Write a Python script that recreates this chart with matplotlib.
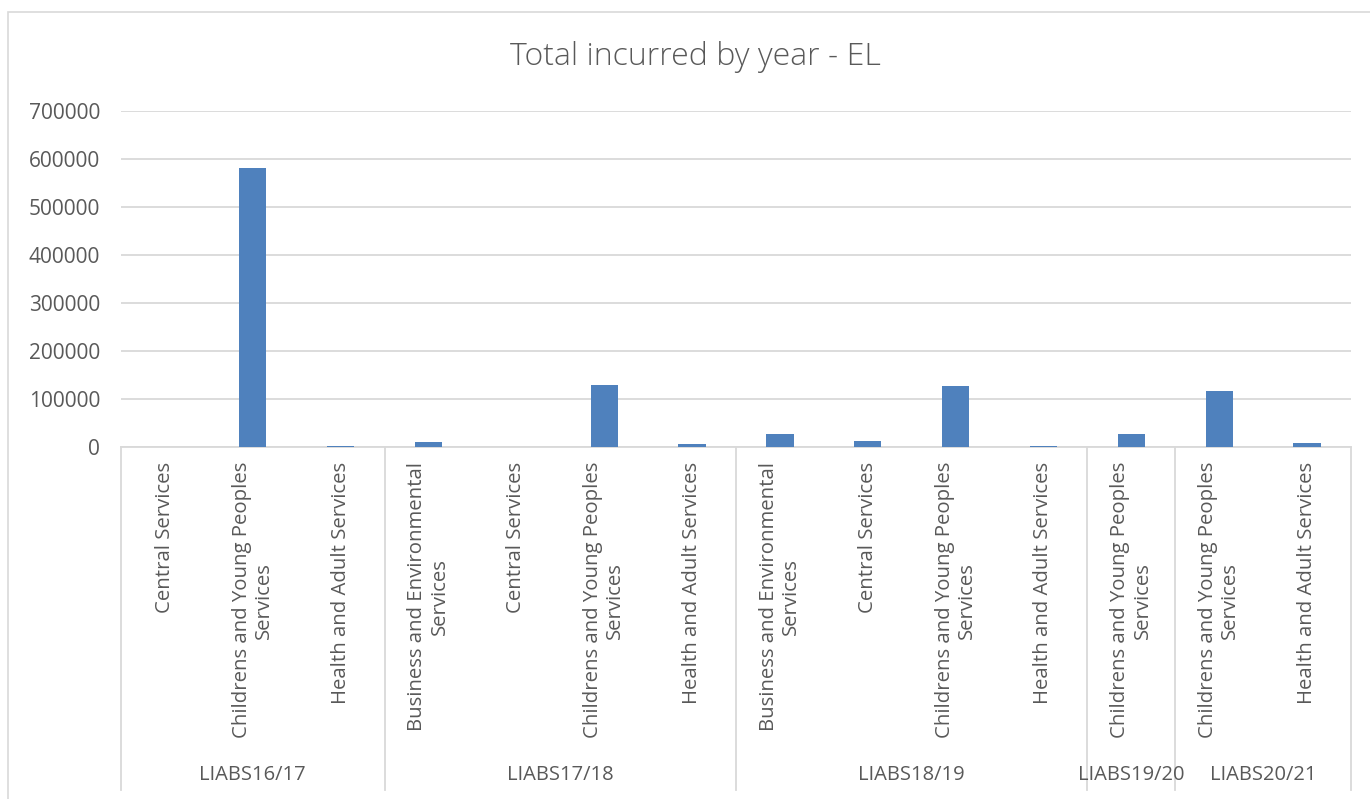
import matplotlib.pyplot as plt
from matplotlib.patches import Rectangle
import matplotlib.transforms as mtransforms

plt.rcParams['font.family'] = ['Open Sans', 'DejaVu Sans']

# data
years = ['LIABS16/17', 'LIABS17/18', 'LIABS18/19', 'LIABS19/20', 'LIABS20/21']
categories = [
    ['Central Services', 'Childrens and Young Peoples\nServices', 'Health and Adult Services'],
    ['Business and Environmental\nServices', 'Central Services',
     'Childrens and Young Peoples\nServices', 'Health and Adult Services'],
    ['Business and Environmental\nServices', 'Central Services',
     'Childrens and Young Peoples\nServices', 'Health and Adult Services'],
    ['Childrens and Young Peoples\nServices'],
    ['Childrens and Young Peoples\nServices', 'Health and Adult Services'],
]
values = [
    [0, 580500, 1500],
    [11000, 0, 129000, 6000],
    [26500, 13000, 128000, 1500],
    [26500],
    [116500, 9000],
]
yticks = [0, 100000, 200000, 300000, 400000, 500000, 600000, 700000]

W, H = 1370, 799
txt = '#595959'
grid = '#d9d9d9'
blue = '#4f81bd'

fig = plt.figure(figsize=(W / 100, H / 100), dpi=100)
# chart frame (cut off at right and bottom like the screenshot)
fig.patches.append(Rectangle((8 / W, -0.1), 1.2, 1 - 12 / H + 0.1, transform=fig.transFigure,
                             fill=False, edgecolor=grid, linewidth=1.2))

left, right, top, bottom = 121, 1351, 111, 447
ax = fig.add_axes([left / W, 1 - bottom / H, (right - left) / W, (bottom - top) / H])

flat_labels = [c for grp in categories for c in grp]
flat_values = [v for grp in values for v in grp]
xs = list(range(len(flat_values)))

ax.bar(xs, flat_values, width=0.31, color=blue, zorder=3)
ax.set_xlim(-0.5, len(xs) - 0.5)
ax.set_ylim(0, 700000)
ax.set_yticks(yticks)
ax.set_yticklabels([str(t) for t in yticks])
ax.set_xticks([])
ax.tick_params(axis='y', length=0, pad=15, labelsize=15, labelcolor=txt)
ax.grid(axis='y', color=grid, linewidth=1.3, zorder=0)
for s in ['top', 'left', 'right']:
    ax.spines[s].set_visible(False)
ax.spines['bottom'].set_color(grid)
ax.spines['bottom'].set_linewidth(1.3)

px = bottom - top
trans = mtransforms.blended_transform_factory(ax.transData, ax.transAxes)

for x, lab in zip(xs, flat_labels):
    ax.text(x, -(462 - bottom) / px, lab, transform=trans, rotation=90,
            ha='center', va='top', multialignment='center', fontsize=14.7,
            color=txt, linespacing=1.15)

# group labels and separators
start = 0
bounds = [-0.5]
for yr, grp in zip(years, categories):
    n = len(grp)
    ax.text(start + (n - 1) / 2, -(775 - bottom) / px, yr, transform=trans,
            ha='center', va='center', fontsize=14.5, color=txt)
    start += n
    bounds.append(start - 0.5)
for b in bounds:
    ax.plot([b, b], [0, -(790 - bottom) / px], transform=trans, color=grid,
            linewidth=1.3, clip_on=False)

fig.text(695 / W, 1 - 57 / H, 'Total incurred by year - EL', ha='center', va='center',
         fontsize=23, color=txt, fontweight='light')

fig.savefig('out.png', dpi=100)
